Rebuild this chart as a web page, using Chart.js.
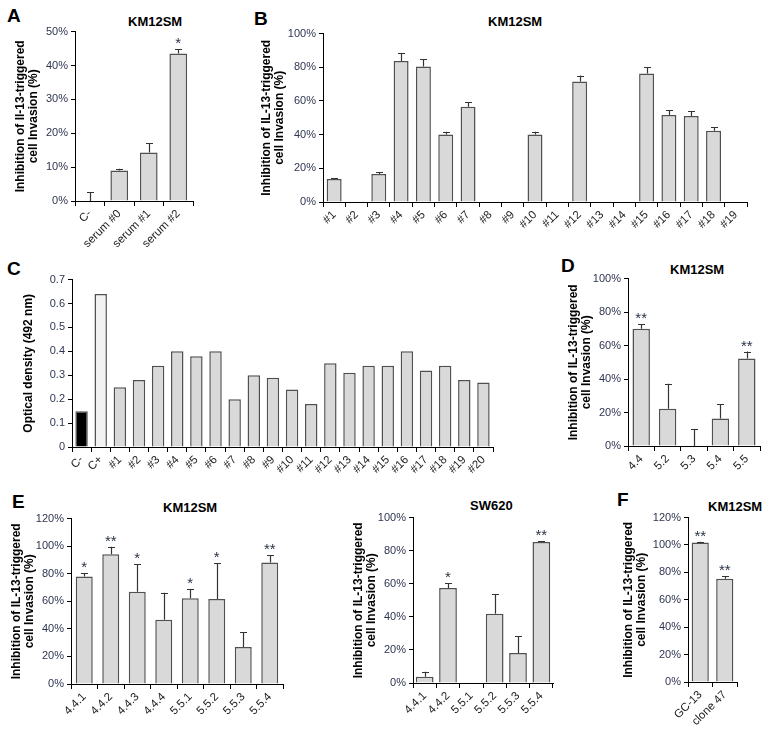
<!DOCTYPE html>
<html>
<head>
<meta charset="utf-8">
<script src="https://cdn.jsdelivr.net/npm/chart.js@4.4.0/dist/chart.umd.min.js"></script>
<style>
  body { margin: 0; background: #fff; width: 767px; height: 732px; position: relative; overflow: hidden;
         font-family: "Liberation Sans", Arial, sans-serif; }
  canvas { position: absolute; }
  .lbl { position: absolute; font-weight: bold; line-height: 1; color: #000; white-space: nowrap; }
  .letter { font-size: 19px; }
  .ttl { font-size: 13px; }
</style>
</head>
<body>
<div class="lbl letter" style="left:7px;top:6px">A</div>
<div class="lbl letter" style="left:254px;top:9px">B</div>
<div class="lbl letter" style="left:7px;top:259px">C</div>
<div class="lbl letter" style="left:561px;top:256px">D</div>
<div class="lbl letter" style="left:12px;top:492px">E</div>
<div class="lbl letter" style="left:617px;top:490px">F</div>

<div class="lbl ttl" style="left:128px;top:15px">KM12SM</div>
<div class="lbl ttl" style="left:488px;top:15px">KM12SM</div>
<div class="lbl ttl" style="left:670px;top:263px">KM12SM</div>
<div class="lbl ttl" style="left:163px;top:501px">KM12SM</div>
<div class="lbl ttl" style="left:470px;top:499px">SW620</div>
<div class="lbl ttl" style="left:708px;top:500px">KM12SM</div>

<script>
// ---- data ----
// A
const aLabels = ['C-', 'serum #0', 'serum #1', 'serum #2'];
const aValues = [0, 9.0, 14.3, 43.5];
const aErrors = [2.6, 0.5, 2.8, 1.4];
const aStars = ['', '', '', '*'];

// B
const bLabels = ['#1', '#2', '#3', '#4', '#5', '#6', '#7', '#8', '#9', '#10',
                 '#11', '#12', '#13', '#14', '#15', '#16', '#17', '#18', '#19'];
const bValues = [13.7, 0, 16.6, 83.7, 80.4, 40.1, 56.5, 0, 0, 40.1, 0, 71.6, 0, 0, 76.3, 51.7, 51.1, 42.3, 0];
const bErrors = [0.4, 0, 1.0, 4.5, 4.3, 1.6, 2.8, 0, 0, 1.6, 0, 3.5, 0, 0, 3.7, 2.9, 2.9, 2.1, 0];

// C
const cLabels = ['C-', 'C+', '#1', '#2', '#3', '#4', '#5', '#6', '#7', '#8', '#9', '#10',
                 '#11', '#12', '#13', '#14', '#15', '#16', '#17', '#18', '#19', '#20'];
const cValues = [0.15, 0.64, 0.25, 0.28, 0.34, 0.40, 0.38, 0.40, 0.20, 0.30, 0.29, 0.24,
                 0.18, 0.35, 0.31, 0.34, 0.34, 0.40, 0.32, 0.34, 0.28, 0.27];

// D
const dLabels = ['4.4', '5.2', '5.3', '5.4', '5.5'];
const dValues = [70, 22.3, 0, 16.4, 52.2];
const dErrors = [2.9, 14.9, 10.2, 8.6, 4.2];
const dStars = ['**', '', '', '', '**'];

// E (KM12SM)
const eLabels = ['4.4.1', '4.4.2', '4.4.3', '4.4.4', '5.5.1', '5.5.2', '5.5.3', '5.5.4'];
const eValues = [78, 94.1, 67, 46.6, 62.2, 61.7, 26.9, 88.1];
const eErrors = [2.4, 5.5, 20.1, 19.6, 6.7, 25.9, 10.5, 5.5];
const eStars = ['*', '**', '*', '', '*', '*', '', '**'];

// E (SW620)
const swLabels = ['4.4.1', '4.4.2', '5.5.1', '5.5.2', '5.5.3', '5.5.4'];
const swValues = [3.8, 57.5, 0, 41.9, 18.2, 85.2];
const swErrors = [3.0, 2.8, 0, 11.8, 10.1, 0.4];
const swStars = ['', '*', '', '', '', '**'];

// F
const fLabels = ['GC-13', 'clone 47'];
const fValues = [101.9, 75.4];
const fErrors = [0.5, 1.9];
const fStars = ['**', '**'];

// ---- drawing ----
const FONT = '"Liberation Sans", Arial, sans-serif';
Chart.defaults.font.family = FONT;

const TITLE_IL = ['Inhibition of IL-13-triggered', 'cell Invasion (%)'];

// upward error bars + significance stars
const errorBarPlugin = {
    id: 'errorBars',
    afterDatasetsDraw(chart) {
        const ds = chart.data.datasets[0];
        if (!ds.errors && !ds.stars) return;
        const ctx = chart.ctx;
        const y = chart.scales.y;
        const meta = chart.getDatasetMeta(0);
        ctx.save();
        ctx.strokeStyle = '#333';
        ctx.lineWidth = 1.2;
        ctx.fillStyle = '#2a3344';
        ctx.font = '15px ' + FONT;
        ctx.textAlign = 'center';
        meta.data.forEach((bar, i) => {
            const v = ds.data[i];
            const e = ds.errors ? ds.errors[i] : 0;
            const yTop = y.getPixelForValue(v + e);
            if (e > 0) {
                const x = Math.round(bar.x) + 0.5;
                ctx.beginPath();
                ctx.moveTo(x, y.getPixelForValue(v));
                ctx.lineTo(x, yTop);
                ctx.moveTo(x - 3.5, Math.round(yTop) + 0.5);
                ctx.lineTo(x + 3.5, Math.round(yTop) + 0.5);
                ctx.stroke();
            }
            if (ds.stars && ds.stars[i]) {
                ctx.fillText(ds.stars[i], bar.x, yTop - 1);
            }
        });
        ctx.restore();
    }
};

const Y_W = 70, PAD_T = 8, PAD_R = 8, LH = 13;

function makePanel(box, labels, values, errors, stars, yAxis, bar) {
    const canvas = document.createElement('canvas');
    const left = box.x - Y_W;
    canvas.width = Y_W + (box.right - box.x) + PAD_R;
    canvas.height = PAD_T + (box.bottom - box.top) + box.xh;
    canvas.style.left = left + 'px';
    canvas.style.top = (box.top - PAD_T) + 'px';
    document.body.appendChild(canvas);

    return new Chart(canvas.getContext('2d'), {
        type: 'bar',
        data: {
            labels: labels,
            datasets: [{
                data: values,
                errors: errors,
                stars: stars,
                backgroundColor: bar.colors || '#d9d9d9',
                borderColor: '#505050',
                borderWidth: 1.5,
                barPercentage: bar.width,
                categoryPercentage: 1
            }]
        },
        options: {
            responsive: false,
            animation: false,
            devicePixelRatio: 1,
            layout: { padding: { top: PAD_T, right: PAD_R, left: 0, bottom: 0 } },
            plugins: { legend: { display: false }, tooltip: { enabled: false } },
            scales: {
                x: {
                    ticks: { autoSkip: false, maxRotation: 45, minRotation: 45, color: '#222',
                             font: { size: 11.5 }, padding: 1 },
                    grid: { drawOnChartArea: false, tickLength: 5, color: '#000', offset: true },
                    border: { color: '#000' },
                    afterFit: s => { s.height = box.xh; }
                },
                y: {
                    min: 0,
                    max: yAxis.max,
                    ticks: { stepSize: yAxis.step, callback: yAxis.fmt, color: '#2e3550',
                             font: { size: 11 }, padding: 3 },
                    grid: { drawOnChartArea: false, tickLength: 4, color: '#000' },
                    border: { color: '#000' },
                    title: { display: true, text: yAxis.title, color: '#000',
                             font: { size: 12, weight: 'bold', lineHeight: LH / 12 },
                             padding: { top: box.tx - left - LH / 2, bottom: 0 } },
                    afterFit: s => { s.width = Y_W; }
                }
            }
        },
        plugins: [errorBarPlugin]
    });
}

const pct = v => v + '%';

makePanel({ x: 75, top: 30, bottom: 201, right: 193, tx: 21, xh: 54 },
    aLabels, aValues, aErrors, aStars,
    { max: 50, step: 10, fmt: pct, title: ['Inhibition of Il-13-triggered', 'cell Invasion (%)'] },
    { width: 0.6 });

makePanel({ x: 323, top: 32, bottom: 202, right: 747, tx: 267, xh: 30 },
    bLabels, bValues, bErrors, null,
    { max: 100, step: 20, fmt: pct, title: TITLE_IL },
    { width: 0.67 });

makePanel({ x: 72, top: 278, bottom: 447, right: 493, tx: 29, xh: 36 },
    cLabels, cValues, null, null,
    { max: 0.7, step: 0.1, fmt: v => v === 0 ? '0' : v.toFixed(1), title: 'Optical density (492 nm)' },
    { width: 0.65, colors: cLabels.map(l => l === 'C-' ? '#000' : (l === 'C+' ? '#f2f2f2' : '#d9d9d9')) });

makePanel({ x: 628, top: 277, bottom: 446, right: 760, tx: 574, xh: 34 },
    dLabels, dValues, dErrors, dStars,
    { max: 100, step: 20, fmt: pct, title: TITLE_IL },
    { width: 0.66 });

makePanel({ x: 71, top: 517, bottom: 684, right: 283, tx: 17, xh: 46 },
    eLabels, eValues, eErrors, eStars,
    { max: 120, step: 20, fmt: pct, title: TITLE_IL },
    { width: 0.64 });

makePanel({ x: 413, top: 516, bottom: 683, right: 553, tx: 359, xh: 46 },
    swLabels, swValues, swErrors, swStars,
    { max: 100, step: 20, fmt: pct, title: TITLE_IL },
    { width: 0.76 });

makePanel({ x: 688, top: 516, bottom: 682, right: 737, tx: 629, xh: 48 },
    fLabels, fValues, fErrors, fStars,
    { max: 120, step: 20, fmt: pct, title: TITLE_IL },
    { width: 0.7 });
</script>
</body>
</html>
